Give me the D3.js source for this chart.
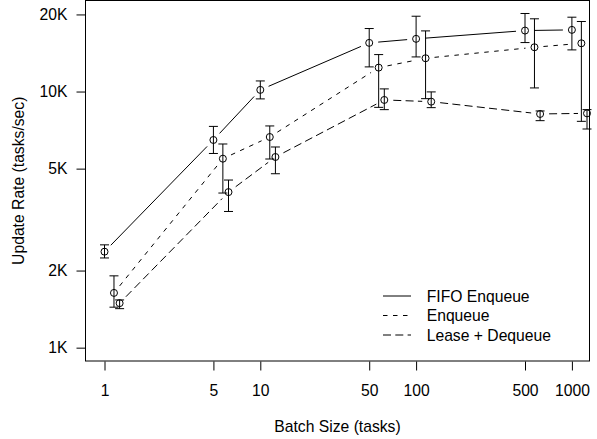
<!DOCTYPE html>
<html>
<head>
<meta charset="utf-8">
<script src="https://cdn.jsdelivr.net/npm/d3@7"></script>
<style>
  html, body { margin: 0; padding: 0; background: #fff; }
  svg { display: block; }
  text { font-family: "Liberation Sans", Arial, Helvetica, sans-serif; fill: #000; }
</style>
</head>
<body>
<svg id="chart" width="597" height="439"></svg>
<script>
// ---- data ----
const batchSizes = [1, 5, 10, 50, 100, 500, 1000];
const xTickLabels = ["1", "5", "10", "50", "100", "500", "1000"];
const yTickValues = [1000, 2000, 5000, 10000, 20000];
const yTickLabels = ["1K", "2K", "5K", "10K", "20K"];

const seriesNames = ["FIFO Enqueue", "Enqueue", "Lease + Dequeue"];
const dodgeFactors = [1, 1.15, 1.25];

const fifoMean = [2370, 6470, 10150, 15490, 16060, 17300, 17410];
const fifoLow  = [2240, 5730, 9360, 12480, 13650, 15530, 14540];
const fifoHigh = [2520, 7310, 11000, 17620, 19680, 20170, 19510];

const enqMean = [1636, 5468, 6645, 12400, 13490, 14890, 15430];
const enqLow  = [1439, 4015, 5452, 8675, 9380, 10330, 7650];
const enqHigh = [1907, 6240, 7340, 13940, 17250, 19230, 18770];

const leaseMean = [1492, 4050, 5552, 9272, 9130, 8175, 8220];
const leaseLow  = [1420, 3402, 4776, 8497, 8652, 7696, 7140];
const leaseHigh = [1536, 4513, 6074, 10240, 9967, 8398, 8500];

// ---- layout ----
const svg = d3.select("#chart");
const plot = { left: 85.5, right: 589.5, top: 0.5, bottom: 361 };
const fontSize = 15.7;
const dashes = [null, "4.5,5.5", "8,4.3"];

const x = d3.scaleLog().domain([0.755, 1297]).range([plot.left, plot.right]);
const y = d3.scaleLog().domain([887, 22670]).range([plot.bottom, plot.top]);

const series = [
  { name: seriesNames[0], mean: fifoMean, low: fifoLow, high: fifoHigh, dodge: dodgeFactors[0], dash: dashes[0] },
  { name: seriesNames[1], mean: enqMean, low: enqLow, high: enqHigh, dodge: dodgeFactors[1], dash: dashes[1] },
  { name: seriesNames[2], mean: leaseMean, low: leaseLow, high: leaseHigh, dodge: dodgeFactors[2], dash: dashes[2] }
];

// box
svg.append("rect")
  .attr("x", plot.left).attr("y", plot.top)
  .attr("width", plot.right - plot.left).attr("height", plot.bottom - plot.top)
  .attr("fill", "none").attr("stroke", "#000").attr("stroke-width", 1);

// x axis
const xAxis = d3.axisBottom(x)
  .tickValues(batchSizes)
  .tickFormat((d, i) => xTickLabels[i])
  .tickSize(9).tickPadding(14);
const gx = svg.append("g").attr("transform", `translate(0,${plot.bottom + 0.5})`).call(xAxis);
gx.select(".domain").remove();
gx.selectAll(".tick line").attr("stroke", "#000");
gx.selectAll(".tick text").attr("font-size", fontSize).attr("font-family", "Liberation Sans, Arial, sans-serif")
  .attr("dy", "0.71em");

// y axis
const yAxis = d3.axisLeft(y)
  .tickValues(yTickValues)
  .tickFormat((d, i) => yTickLabels[i])
  .tickSize(9).tickPadding(9);
const gy = svg.append("g").attr("transform", `translate(${plot.left},0)`).call(yAxis);
gy.select(".domain").remove();
gy.selectAll(".tick line").attr("stroke", "#000");
gy.selectAll(".tick text").attr("font-size", fontSize).attr("font-family", "Liberation Sans, Arial, sans-serif");

// axis titles
svg.append("text")
  .attr("x", (plot.left + plot.right) / 2).attr("y", 432)
  .attr("text-anchor", "middle").attr("font-size", fontSize)
  .text("Batch Size (tasks)");
svg.append("text")
  .attr("transform", `translate(24,${(plot.top + plot.bottom) / 2}) rotate(-90)`)
  .attr("text-anchor", "middle").attr("font-size", fontSize)
  .text("Update Rate (tasks/sec)");

const capHalf = 4.5;
const radius = 3.5;
const gap = 9;

series.forEach(s => {
  const g = svg.append("g");
  const pts = batchSizes.map((b, i) => ({
    px: x(b * s.dodge), py: y(s.mean[i]), lo: y(s.low[i]), hi: y(s.high[i])
  }));
  // error bars
  pts.forEach(p => {
    g.append("line").attr("x1", p.px).attr("x2", p.px).attr("y1", p.lo).attr("y2", p.hi)
      .attr("stroke", "#000").attr("stroke-width", 1);
    [p.lo, p.hi].forEach(v => {
      g.append("line").attr("x1", p.px - capHalf).attr("x2", p.px + capHalf).attr("y1", v).attr("y2", v)
        .attr("stroke", "#000").attr("stroke-width", 1);
    });
  });
  // points
  pts.forEach(p => {
    g.append("circle").attr("cx", p.px).attr("cy", p.py).attr("r", radius)
      .attr("fill", "none").attr("stroke", "#000").attr("stroke-width", 1);
  });
  // connecting lines with gaps around points
  for (let i = 0; i < pts.length - 1; i++) {
    const a = pts[i], b = pts[i + 1];
    const dx = b.px - a.px, dy = b.py - a.py;
    const len = Math.hypot(dx, dy);
    if (len <= 2 * gap) continue;
    const ux = dx / len, uy = dy / len;
    const seg = g.append("line")
      .attr("x1", a.px + ux * gap).attr("y1", a.py + uy * gap)
      .attr("x2", b.px - ux * gap).attr("y2", b.py - uy * gap)
      .attr("stroke", "#000").attr("stroke-width", 1);
    if (s.dash) seg.attr("stroke-dasharray", s.dash);
  }
});

// legend
const legendRows = [296, 315.5, 335];
series.forEach((s, i) => {
  const ln = svg.append("line")
    .attr("x1", 383).attr("x2", 411).attr("y1", legendRows[i]).attr("y2", legendRows[i])
    .attr("stroke", "#000").attr("stroke-width", 1);
  if (s.dash) ln.attr("stroke-dasharray", s.dash);
  svg.append("text")
    .attr("x", 426.7).attr("y", legendRows[i]).attr("dy", "0.36em")
    .attr("font-size", fontSize)
    .text(s.name);
});
</script>
</body>
</html>
